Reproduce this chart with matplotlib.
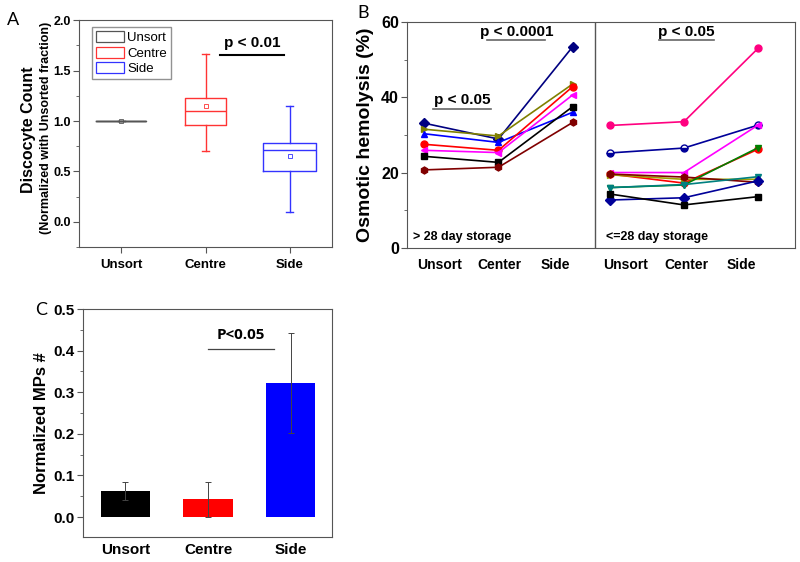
import matplotlib
matplotlib.use('Agg')
import matplotlib.pyplot as plt
from matplotlib.patches import Patch
from matplotlib.ticker import MultipleLocator

plt.rcParams['font.family'] = ['Liberation Sans', 'DejaVu Sans']

# ---- Panel A data (box stats, discocyte count) ----
a_groups = ['Unsort', 'Centre', 'Side']
a_colors = ['#555555', '#FF3333', '#3333FF']
a_med = [1.0, 1.10, 0.71]
a_q1 = [1.0, 0.96, 0.50]
a_q3 = [1.0, 1.23, 0.78]
a_lo = [1.0, 0.70, 0.10]
a_hi = [1.0, 1.66, 1.15]
a_mean = [1.0, 1.15, 0.65]
a_width = [0.59, 0.49, 0.63]

# ---- Panel B data (osmotic hemolysis %) ----
b_groups = ['Unsort', 'Center', 'Side']
# > 28 day storage
old_vals = [
    [33.1, 28.9, 53.4],
    [31.5, 29.7, 43.5],
    [30.3, 28.0, 36.0],
    [27.5, 25.9, 42.8],
    [25.9, 25.3, 40.6],
    [24.3, 22.7, 37.5],
    [20.7, 21.4, 33.3],
]
old_style = [('#000080', 'D'), ('#808000', '>'), ('#0000FF', '^'), ('#FF0000', 'o'),
             ('#FF00FF', '<'), ('#000000', 's'), ('#800000', 'h')]
# <= 28 day storage
new_vals = [
    [32.5, 33.5, 53.0],
    [25.2, 26.5, 32.6],
    [20.0, 20.0, 32.6],
    [19.6, 17.2, 26.2],
    [19.4, 18.2, 18.2],
    [19.6, 18.8, 17.4],
    [16.0, 16.7, 26.6],
    [16.0, 16.8, 18.9],
    [12.7, 13.3, 17.8],
    [14.3, 11.4, 13.6],
]
new_style = [('#FF0080', 'o'), ('#000099', 'half'), ('#FF00FF', '<'), ('#FF0000', 'o'),
             ('#A0A000', '>'), ('#800000', 'h'), ('#008000', 'v'), ('#008080', 'v'),
             ('#000099', 'D'), ('#000000', 's')]

# ---- Panel C data (normalized MPs) ----
c_groups = ['Unsort', 'Centre', 'Side']
c_vals = [0.063, 0.043, 0.323]
c_err = [0.022, 0.042, 0.120]
c_colors = ['#000000', '#FF0000', '#0000FF']

fig = plt.figure(figsize=(8, 5.62), dpi=100)

frame = '#555555'

# ================= Panel A =================
axA = fig.add_axes([0.099, 0.5605, 0.316, 0.4035])
for i in range(3):
    st = [dict(med=a_med[i], q1=a_q1[i], q3=a_q3[i], whislo=a_lo[i], whishi=a_hi[i],
               mean=a_mean[i], fliers=[])]
    c = a_colors[i]
    axA.bxp(st, positions=[i + 1], widths=a_width[i], capwidths=0.08, showmeans=True,
            showfliers=False, manage_ticks=False,
            boxprops=dict(color=c, lw=1.0), whiskerprops=dict(color=c, lw=1.0),
            capprops=dict(color=c, lw=1.0), medianprops=dict(color=c, lw=1.0),
            meanprops=dict(marker='s', markersize=3, markerfacecolor='none',
                           markeredgecolor=c, markeredgewidth=0.6))
axA.set_xlim(0.5, 3.5)
axA.set_ylim(-0.25, 2.0)
axA.set_xticks([1, 2, 3])
axA.set_xticklabels(a_groups, fontsize=9.5, fontweight='bold')
axA.set_yticks([0.0, 0.5, 1.0, 1.5, 2.0])
axA.set_yticklabels(['0.0', '0.5', '1.0', '1.5', '2.0'], fontsize=9, fontweight='bold')
axA.yaxis.set_minor_locator(MultipleLocator(0.25))
axA.tick_params(direction='out', length=4, color=frame, pad=2)
axA.tick_params(axis='x', pad=5)
axA.tick_params(which='minor', direction='out', length=2.5, color=frame)
for s in axA.spines.values():
    s.set_color(frame)
axA.legend(handles=[Patch(facecolor='white', edgecolor=c, lw=0.9) for c in a_colors],
           labels=a_groups, loc='upper left', bbox_to_anchor=(0.05, 0.97),
           fontsize=9.5, frameon=True, fancybox=False, edgecolor='#777777',
           handlelength=2.1, handleheight=0.9, handletextpad=0.3, borderpad=0.3,
           labelspacing=0.2, borderaxespad=0)
axA.plot([2.17, 2.93], [1.655, 1.655], color='black', lw=1.5)
axA.text(2.55, 1.70, 'p < 0.01', ha='center', va='bottom', fontsize=11, fontweight='bold')
fig.text(0.035, 0.77, 'Discocyte Count', rotation=90, ha='center', va='center',
         fontsize=11.5, fontweight='bold')
fig.text(0.0575, 0.772, '(Normalized with Unsorted fraction)', rotation=90, ha='center',
         va='center', fontsize=9, fontweight='bold')
fig.text(0.009, 0.964, 'A', fontsize=13, family=['Lato', 'DejaVu Sans'], va='center')

# ================= Panel B =================
axB = fig.add_axes([0.509, 0.559, 0.485, 0.402])
x_old = [1, 2, 3]
x_new = [3.5, 4.5, 5.5]
for vals, (c, m) in zip(old_vals, old_style):
    axB.plot(x_old, vals, color=c, marker=m, markersize=5, lw=1.2)
for vals, (c, m) in zip(new_vals, new_style):
    if m == 'half':
        axB.plot(x_new, vals, color=c, marker='o', markersize=5, lw=1.2,
                 fillstyle='bottom', markerfacecoloralt='white', markeredgecolor=c)
    else:
        axB.plot(x_new, vals, color=c, marker=m, markersize=5, lw=1.2)
axB.axvline(3.3, color=frame, lw=1.0)
axB.set_xlim(0.77, 6.0)
axB.set_ylim(0, 60)
axB.set_xticks([1.21, 2.02, 2.76, 3.72, 4.54, 5.28])
axB.set_xticklabels(b_groups + b_groups, fontsize=10, fontweight='bold')
axB.tick_params(axis='x', length=0, pad=7)
axB.set_yticks([0, 20, 40, 60])
axB.set_yticklabels(['0', '20', '40', '60'], fontsize=11.5, fontweight='bold')
axB.yaxis.set_minor_locator(MultipleLocator(10))
axB.tick_params(axis='y', direction='out', length=4, color=frame, pad=2)
axB.tick_params(axis='y', which='minor', direction='out', length=2.5, color=frame)
for s in axB.spines.values():
    s.set_color(frame)
axB.set_ylabel('Osmotic hemolysis (%)', fontsize=14, fontweight='bold', labelpad=5)
ul = '#666666'
axB.plot([1.12, 1.9], [36.9, 36.9], color=ul, lw=1.2)
axB.text(1.51, 37.3, 'p < 0.05', ha='center', va='bottom', fontsize=11, fontweight='bold')
axB.plot([1.85, 2.63], [55.1, 55.1], color=ul, lw=1.2)
axB.text(2.24, 55.5, 'p < 0.0001', ha='center', va='bottom', fontsize=11, fontweight='bold')
axB.plot([4.17, 4.9], [55.1, 55.1], color=ul, lw=1.2)
axB.text(4.53, 55.5, 'p < 0.05', ha='center', va='bottom', fontsize=11, fontweight='bold')
axB.text(0.85, 1.2, '> 28 day storage', fontsize=9, fontweight='bold', va='bottom')
axB.text(3.45, 1.2, '<=28 day storage', fontsize=9, fontweight='bold', va='bottom')
fig.text(0.447, 0.976, 'B', fontsize=13, family=['Lato', 'DejaVu Sans'], va='center')

# ================= Panel C =================
axC = fig.add_axes([0.104, 0.0445, 0.311, 0.4055])
xc = [1, 2, 3]
axC.bar(xc, c_vals, width=0.6, color=c_colors, yerr=c_err,
        error_kw=dict(ecolor='#444444', elinewidth=0.7, capsize=2.5, capthick=0.7))
axC.set_xlim(0.49, 3.5)
axC.set_ylim(-0.048, 0.5)
axC.set_xticks(xc)
axC.set_xticklabels(c_groups, fontsize=11, fontweight='bold')
axC.tick_params(axis='x', length=0, pad=4)
axC.set_yticks([0.0, 0.1, 0.2, 0.3, 0.4, 0.5])
axC.set_yticklabels(['0.0', '0.1', '0.2', '0.3', '0.4', '0.5'], fontsize=11, fontweight='bold')
axC.yaxis.set_minor_locator(MultipleLocator(0.05))
axC.tick_params(axis='y', direction='out', length=4, color=frame, pad=2)
axC.tick_params(axis='y', which='minor', direction='out', length=2.5, color=frame)
for s in axC.spines.values():
    s.set_color(frame)
axC.set_ylabel('Normalized MPs #', fontsize=12, fontweight='bold', labelpad=3)
axC.plot([2.0, 2.8], [0.404, 0.404], color='#444444', lw=0.9)
axC.text(2.4, 0.42, 'P<0.05', ha='center', va='bottom', fontsize=11, fontweight='bold',
         family=['Open Sans', 'DejaVu Sans'])
fig.text(0.044, 0.448, 'C', fontsize=13, family=['Lato', 'DejaVu Sans'], va='center')

fig.savefig('out.png', dpi=100)
